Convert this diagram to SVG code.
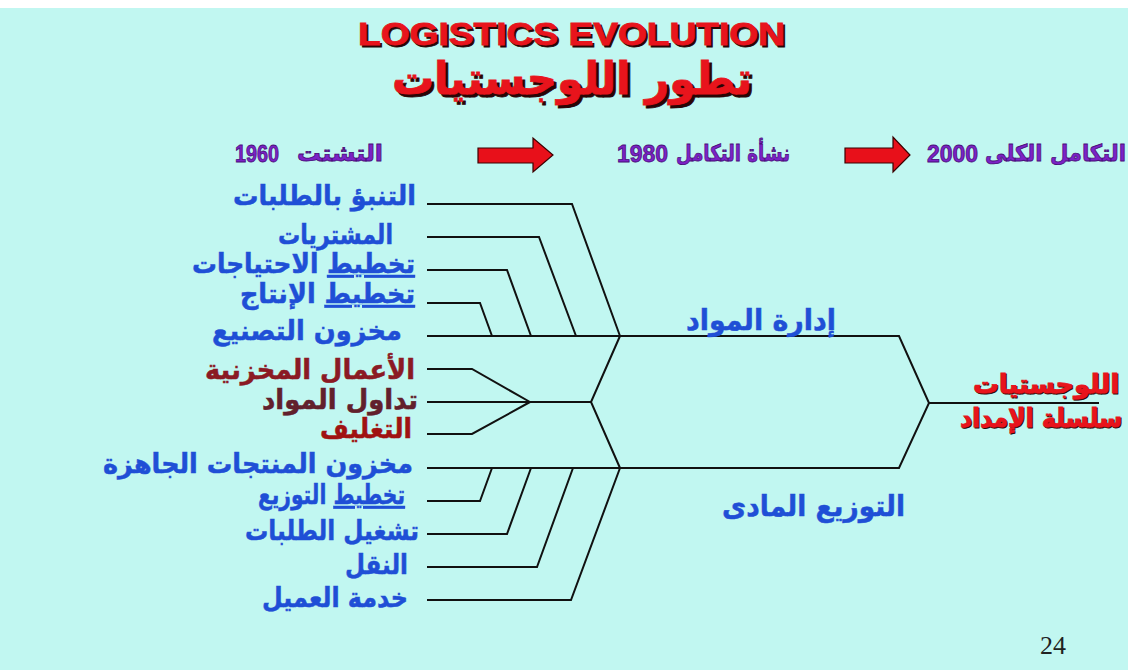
<svg xmlns="http://www.w3.org/2000/svg" width="1128" height="670" viewBox="0 0 1128 670">
  <style>
    .ar{font-family:"DejaVu Sans","Liberation Sans",sans-serif;font-weight:bold}
    .lat{font-family:"Liberation Sans",Arial,sans-serif;font-weight:bold}
    .lbl{font-size:27px;fill:#1f4fd6;stroke:#1f4fd6;stroke-width:0.5}
    .mar{font-size:27px;fill:#8b1a24;stroke:#8b1a24;stroke-width:0.5}
    .mar2{font-size:27px;fill:#62202c;stroke:#62202c;stroke-width:0.5}
    .mar3{font-size:27px;fill:#a01212;stroke:#a01212;stroke-width:0.5}
    .era{font-size:23px;fill:#7b22c6;stroke:#4a0f7a;stroke-width:0.8}
    .ttlR{fill:#e8141c;stroke:#e8141c;stroke-width:0.8}
    .ttlS{fill:#2a0505;stroke:#2a0505;stroke-width:0.8}
    .big{font-size:29px}
    .arrow{fill:#e8101a;stroke:#3a0000;stroke-width:1.2}
    .ln{fill:none;stroke:#111;stroke-width:2;stroke-linejoin:miter}
  </style>

  <!-- background -->
  <rect x="0" y="0" width="1128" height="670" fill="#c1f7f1"/>
  <rect x="0" y="0" width="1128" height="8" fill="#ffffff"/>

  <!-- titles -->
  <g id="title-en">
    <text class="lat ttlS" x="360" y="47" font-size="31" textLength="427" lengthAdjust="spacingAndGlyphs">LOGISTICS EVOLUTION</text>
    <text class="lat ttlR" x="358" y="45" font-size="31" textLength="427" lengthAdjust="spacingAndGlyphs">LOGISTICS EVOLUTION</text>
  </g>
  <g id="title-ar">
    <text class="ar ttlS" x="755" y="97" font-size="45" text-anchor="end" textLength="360" lengthAdjust="spacingAndGlyphs">تطور اللوجستيات</text>
    <text class="ar ttlR" x="752" y="94" font-size="45" text-anchor="end" textLength="360" lengthAdjust="spacingAndGlyphs">تطور اللوجستيات</text>
  </g>

  <!-- eras and arrows -->
  <g id="era-1960">
    <text class="lat era" x="235" y="162" textLength="44" lengthAdjust="spacingAndGlyphs">1960</text>
    <text class="ar era" x="383" y="161" text-anchor="end" textLength="86" lengthAdjust="spacingAndGlyphs">التشتت</text>
  </g>
  <g id="arrow-1">
    <polygon class="arrow" points="478,148 533,148 533,138 553,155 533,172 533,163 478,163"/>
  </g>
  <g id="era-1980">
    <text class="lat era" x="617" y="162" textLength="51" lengthAdjust="spacingAndGlyphs">1980</text>
    <text class="ar era" x="790" y="161" text-anchor="end" textLength="114" lengthAdjust="spacingAndGlyphs">نشأة التكامل</text>
  </g>
  <g id="arrow-2">
    <polygon class="arrow" points="845,148 893,148 893,137 910,155 893,172 893,163 845,163"/>
  </g>
  <g id="era-2000">
    <text class="lat era" x="927" y="162" textLength="51" lengthAdjust="spacingAndGlyphs">2000</text>
    <text class="ar era" x="1126" y="161" text-anchor="end" textLength="141" lengthAdjust="spacingAndGlyphs">التكامل الكلى</text>
  </g>

  <!-- connectors -->
  <g id="connectors">
    <!-- materials management branch -->
    <polyline class="ln" points="427,204 572,204 620,336"/>
    <polyline class="ln" points="427,237 539,237 576,336"/>
    <polyline class="ln" points="427,270 507,270 531,336"/>
    <polyline class="ln" points="427,303 480,303 492,336"/>
    <!-- warehousing / handling / packaging fork -->
    <polyline class="ln" points="427,369 472,369 530,402"/>
    <polyline class="ln" points="427,434 472,434 530,402"/>
    <polyline class="ln" points="427,402 591,402"/>
    <polyline class="ln" points="620,336 591,402 620,468"/>
    <!-- physical distribution branch -->
    <polyline class="ln" points="427,501 480,501 492,468"/>
    <polyline class="ln" points="427,534 507,534 531,468"/>
    <polyline class="ln" points="427,567 537,567 573,468"/>
    <polyline class="ln" points="427,600 571,600 620,468"/>
    <!-- trunks meeting at logistics -->
    <polyline class="ln" points="427,336 899,336 929,403 899,468 427,468"/>
    <line class="ln" x1="929" y1="403" x2="1099" y2="403"/>
  </g>

  <!-- left activity labels -->
  <g id="n-forecast"><text class="ar lbl" x="416" y="205" text-anchor="end" textLength="183" lengthAdjust="spacingAndGlyphs">التنبؤ بالطلبات</text></g>
  <g id="n-purchasing"><text class="ar lbl" x="393" y="244" text-anchor="end" textLength="115" lengthAdjust="spacingAndGlyphs">المشتريات</text></g>
  <g id="n-req-planning"><text class="ar lbl" x="415" y="273" text-anchor="end" textLength="223" lengthAdjust="spacingAndGlyphs"><tspan text-decoration="underline">تخطيط</tspan> الاحتياجات</text></g>
  <g id="n-prod-planning"><text class="ar lbl" x="415" y="303" text-anchor="end" textLength="175" lengthAdjust="spacingAndGlyphs"><tspan text-decoration="underline">تخطيط</tspan> الإنتاج</text></g>
  <g id="n-mfg-inventory"><text class="ar lbl" x="402" y="340" text-anchor="end" textLength="190" lengthAdjust="spacingAndGlyphs">مخزون التصنيع</text></g>
  <g id="n-warehousing"><text class="ar mar" x="415" y="379" text-anchor="end" textLength="210" lengthAdjust="spacingAndGlyphs">الأعمال المخزنية</text></g>
  <g id="n-handling"><text class="ar mar2" x="418" y="409" text-anchor="end" textLength="156" lengthAdjust="spacingAndGlyphs">تداول المواد</text></g>
  <g id="n-packaging"><text class="ar mar3" x="412" y="438" text-anchor="end" textLength="92" lengthAdjust="spacingAndGlyphs">التغليف</text></g>
  <g id="n-fg-inventory"><text class="ar lbl" x="413" y="473" text-anchor="end" textLength="310" lengthAdjust="spacingAndGlyphs">مخزون المنتجات الجاهزة</text></g>
  <g id="n-dist-planning"><text class="ar lbl" x="405" y="504" text-anchor="end" textLength="147" lengthAdjust="spacingAndGlyphs"><tspan text-decoration="underline">تخطيط</tspan> التوزيع</text></g>
  <g id="n-order-processing"><text class="ar lbl" x="419" y="540" text-anchor="end" textLength="174" lengthAdjust="spacingAndGlyphs">تشغيل الطلبات</text></g>
  <g id="n-transport"><text class="ar lbl" x="408" y="574" text-anchor="end" textLength="63" lengthAdjust="spacingAndGlyphs">النقل</text></g>
  <g id="n-customer-service"><text class="ar lbl" x="408" y="607" text-anchor="end" textLength="146" lengthAdjust="spacingAndGlyphs">خدمة العميل</text></g>

  <!-- branch labels -->
  <g id="n-materials-mgmt"><text class="ar lbl big" x="836" y="330" text-anchor="end" textLength="150" lengthAdjust="spacingAndGlyphs">إدارة المواد</text></g>
  <g id="n-physical-dist"><text class="ar lbl big" x="905" y="516" text-anchor="end" textLength="183" lengthAdjust="spacingAndGlyphs">التوزيع المادى</text></g>

  <!-- logistics / supply chain -->
  <g id="n-logistics">
    <text class="ar ttlS" x="1120" y="394" font-size="26" text-anchor="end" textLength="146" lengthAdjust="spacingAndGlyphs">اللوجستيات</text>
    <text class="ar ttlR" x="1119" y="393" font-size="26" text-anchor="end" textLength="146" lengthAdjust="spacingAndGlyphs">اللوجستيات</text>
    <text class="ar ttlS" x="1123" y="428" font-size="26" text-anchor="end" textLength="162" lengthAdjust="spacingAndGlyphs">سلسلة الإمداد</text>
    <text class="ar ttlR" x="1122" y="427" font-size="26" text-anchor="end" textLength="162" lengthAdjust="spacingAndGlyphs">سلسلة الإمداد</text>
  </g>

  <!-- page number -->
  <text x="1040" y="654" font-family="'Liberation Serif','Times New Roman',serif" font-size="26" fill="#222">24</text>
</svg>
